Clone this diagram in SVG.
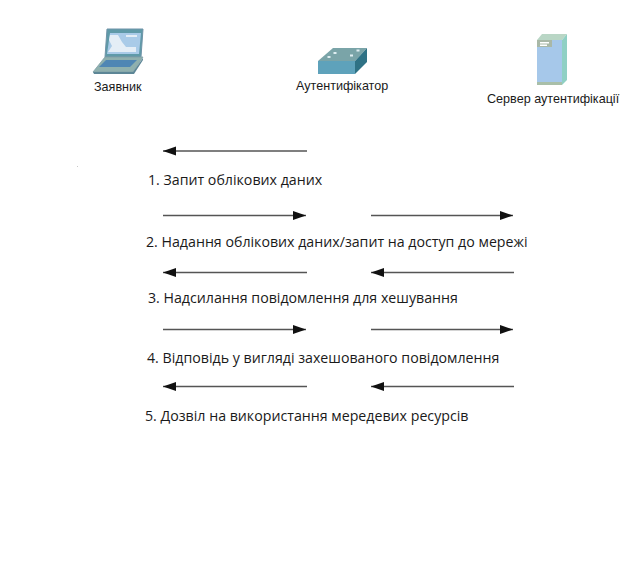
<svg xmlns="http://www.w3.org/2000/svg" width="644" height="574" viewBox="0 0 644 574">
<style>
text{font-family:"Open Sans","Noto Sans","Liberation Sans",sans-serif;fill:#1a1a1a}
.n{font-size:12.6px;font-family:"Liberation Sans",Arial,sans-serif}
.s{font-size:14.2px}
.c{stroke:#555;stroke-width:1.3;fill:none}
.l{marker-end:url(#a)}
</style>
<defs><marker id="a" markerUnits="userSpaceOnUse" markerWidth="14" markerHeight="10" refX="13" refY="4.5" orient="auto"><path d="M0 0L13 4.5L0 9Z" fill="#111"/></marker></defs>
<rect width="644" height="574" fill="#fff"/>
<rect x="77" y="166" width="1" height="1" fill="#c8c8c8"/>
<g id="node-supplicant">
<path d="M107 29H143L141 57H105Z" fill="#5f9aa8" stroke="#6f93a8"/>
<path d="M110 33H141L139 54H107Z" fill="#a9cbe8"/>
<path d="M110 35H118L122 42L126 47H136V52H108L112 46L109 40Z" fill="#e4eef6"/>
<path d="M126 35H137V37H126Z" fill="#e4eef6"/>
<path d="M105 57H143L133 72H93Z" fill="#8fb0ae" stroke="#7fa0a6" stroke-width=".8"/>
<path d="M106 60H137L130 67H99Z" fill="#4f86b4"/>
<path d="M93 72H133L143 58V60L134 74H94Z" fill="#5d8696"/>
</g>
<g id="node-authenticator">
<path d="M318 61L333 48H367L355 61Z" fill="#7aa4a8"/>
<path d="M318 61H355V74H318Z" fill="#5ea2bb"/>
<path d="M355 61L367 48V62L355 74Z" fill="#2f7285"/>
<rect x="333.500" y="52" width="3" height="2" fill="#dfeef2"/><rect x="327.500" y="56" width="3" height="2" fill="#dfeef2"/><rect x="350" y="54.500" width="3" height="2" fill="#dfeef2"/><rect x="356.500" y="49.500" width="3" height="2" fill="#dfeef2"/>
</g>
<g id="node-server">
<path d="M537 40L542 34H567L562 40Z" fill="#b9d6c5"/>
<rect x="537" y="40" width="25" height="45" fill="#a6c8ea"/>
<path d="M562 40L567 34V80L562 85Z" fill="#8fd0c4"/>
<rect x="537" y="40" width="15" height="7" fill="#a9b8a7"/>
<rect x="540" y="42" width="9" height="1.500" fill="#fff"/><rect x="540" y="44.500" width="7" height="1.500" fill="#fff"/>
<rect x="537" y="82" width="25" height="3" fill="#a9bfa9"/>
</g>
<text class="n" x="94" y="91">Заявник</text>
<text class="n" x="296" y="90">Аутентифікатор</text>
<text class="n" x="487" y="103">Сервер аутентифікації</text>
<g id="connectors">
<line class="c l" x1="307" y1="151" x2="163" y2="151"/>
<line class="c l" x1="163" y1="215.500" x2="306" y2="215.500"/>
<line class="c l" x1="371" y1="215.500" x2="513" y2="215.500"/>
<line class="c l" x1="307" y1="272.500" x2="163" y2="272.500"/>
<line class="c l" x1="514" y1="272.500" x2="371" y2="272.500"/>
<line class="c l" x1="163" y1="329.500" x2="306" y2="329.500"/>
<line class="c l" x1="371" y1="329.500" x2="513" y2="329.500"/>
<line class="c l" x1="307" y1="386.500" x2="163" y2="386.500"/>
<line class="c l" x1="514" y1="386.500" x2="371" y2="386.500"/>
</g>
<g id="labels">
<text class="s" x="148" y="185">1. Запит облікових даних</text>
<text class="s" x="146" y="247">2. Надання облікових даних/запит на доступ до мережі</text>
<text class="s" x="148" y="303">3. Надсилання повідомлення для хешування</text>
<text class="s" x="147" y="363">4. Відповідь у вигляді захешованого повідомлення</text>
<text class="s" x="145" y="421">5. Дозвіл на використання мередевих ресурсів</text>
</g>
</svg>
